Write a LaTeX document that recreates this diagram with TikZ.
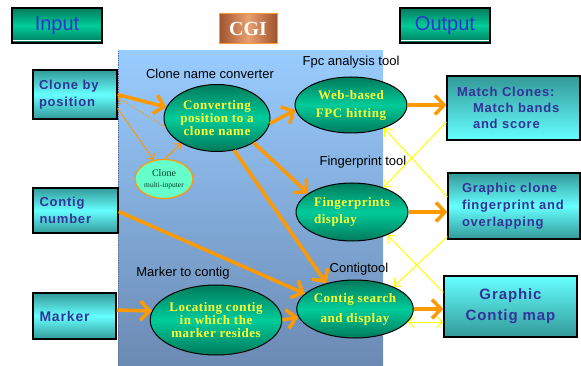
\documentclass[tikz,border=0pt]{standalone}
\usepackage{fontspec}
\setmainfont{Liberation Serif}
\newfontfamily\sansf{Liberation Sans}
\newfontfamily\boxf{Liberation Sans}[LetterSpace=6]
\newfontfamily\ellf{Liberation Serif}[LetterSpace=4]
\usetikzlibrary{shapes.geometric,arrows.meta,calc}
\definecolor{orng}{HTML}{FF9900}
\definecolor{ylw}{HTML}{FFFF00}
\definecolor{txtblue}{HTML}{333399}
\definecolor{hdrblue}{HTML}{3333CC}
\definecolor{teal}{HTML}{339999}
\definecolor{cyanl}{HTML}{66FFFF}
\definecolor{gdark}{HTML}{007A5C}
\definecolor{gmid}{HTML}{00CC99}
\definecolor{ellt}{HTML}{FFFF33}
\tikzset{
  hdrbox/.style={draw=black,line width=1.2pt,top color=gdark,bottom color=gdark,middle color=gmid,
    minimum width=90pt,minimum height=35pt,inner sep=0pt,font=\sansf\fontsize{20}{22}\selectfont,text=hdrblue},
  inbox/.style={draw=black,line width=1.2pt,inner sep=0pt,align=left,
    font=\boxf\bfseries\fontsize{13}{17}\selectfont,text=txtblue},
  tealmid/.style={top color=teal,bottom color=teal,middle color=cyanl},
  tealup/.style={top color=teal,bottom color=cyanl},
  tealdown/.style={top color=cyanl,bottom color=teal},
  tool/.style={ellipse,draw=black,line width=1pt,top color=gdark,bottom color=gdark,middle color=gmid,
    inner sep=0pt,align=center,font=\ellf\bfseries\fontsize{13}{13}\selectfont,text=ellt},
  lbl/.style={font=\sansf\fontsize{13}{15}\selectfont,text=black,inner sep=0pt},
  bigarrow/.style={draw=orng,line width=3.5pt,-{Straight Barb[length=9pt,width=19pt]}},
  thinarrow/.style={draw=orng,line width=1pt,-{Straight Barb[length=5pt,width=9pt]}},
  yarrow/.style={draw=ylw,line width=1pt,-{Straight Barb[length=6pt,width=11pt]}},
  ydarrow/.style={draw=ylw,line width=1pt,{Straight Barb[length=6pt,width=11pt]}-{Straight Barb[length=6pt,width=11pt]}},
}
\begin{document}
\begin{tikzpicture}[x=1pt,y=-1pt]
\useasboundingbox (0,0) rectangle (581,366);
% panel
\shade[top color={rgb,255:red,153;green,204;blue,255},bottom color={rgb,255:red,107;green,138;blue,179}]
  (118,51) rectangle (383,366);
\draw[densely dotted,color={rgb,255:red,90;green,110;blue,150},line width=0.8pt] (118.5,51) -- (118.5,366);
% header boxes
\node[hdrbox] (in) at (57,25.5) {Input};
\node[hdrbox] (out) at (445,25.5) {Output};
\draw[white,line width=0.6pt] (13,40.5) -- (101,40.5);
\draw[white,line width=0.6pt] (401,40.5) -- (489,40.5);
\node[draw={rgb,255:red,255;green,153;blue,51},line width=1pt,
  left color={rgb,255:red,160;green,82;blue,45},right color={rgb,255:red,160;green,82;blue,45},
  middle color={rgb,255:red,232;green,160;blue,112},
  minimum width=58pt,minimum height=30pt,inner sep=0pt,text=white,
  font=\fontsize{20}{22}\selectfont\bfseries] (cgi) at (248,29) {CGI};
% input boxes
\node[inbox,tealmid,minimum width=84pt,minimum height=49pt,text width=72pt] (cbp) at (75,94.5) {Clone by\\position};
\node[inbox,tealmid,minimum width=85pt,minimum height=45pt,text width=72pt] (cn) at (75.5,210.5) {Contig\\number};
\node[inbox,tealmid,minimum width=83pt,minimum height=46pt,text width=70pt,font=\boxf\bfseries\fontsize{14}{16}\selectfont] (mk) at (74.5,316) {Marker};
% output boxes
\node[inbox,tealup,minimum width=133pt,minimum height=64pt,text width=113pt,font=\boxf\bfseries\fontsize{13}{16}\selectfont] (mc) at (513.5,108)
  {Match Clones:\\\hspace*{16pt}Match bands\\\hspace*{16pt}and score};
\node[inbox,tealmid,minimum width=132pt,minimum height=66pt,text width=104pt,font=\boxf\bfseries\fontsize{13}{17}\selectfont] (gc) at (514,206)
  {Graphic clone\\fingerprint and\\overlapping};
\node[inbox,tealdown,minimum width=133pt,minimum height=61pt,text width=124pt,align=center,
  font=\boxf\bfseries\fontsize{15}{21}\selectfont] (gcm) at (510.5,306.5)
  {Graphic\\Contig map};
% tools
\node[tool,minimum width=106pt,minimum height=67pt] (conv) at (217,118)
  {Converting\\position to a\\clone name};
\node[ellipse,draw=orng,line width=1.2pt,fill={rgb,255:red,102;green,255;blue,204},
  minimum width=58pt,minimum height=39pt,inner sep=0pt,align=center,text={rgb,255:red,0;green,60;blue,40}] (cmi) at (164,179)
  {\fontsize{10}{10}\selectfont Clone\\[-1pt]\fontsize{7.5}{8}\selectfont multi-inputer};
\node[tool,minimum width=112pt,minimum height=56pt] (web) at (351,105) {Web-based\\[5pt]FPC hitting};
\node[tool,minimum width=112pt,minimum height=58pt,align=left] (fp) at (352,212) {Fingerprints\\[4pt]display};
\node[tool,minimum width=106pt,minimum height=58pt] (cs) at (355,309) {Contig search\\[7pt]and display};
\node[tool,minimum width=120pt,minimum height=70pt] (loc) at (216,320) {Locating contig\\in which the\\marker resides};
% labels
\node[lbl] (l1) at (210,74) {Clone name converter};
\node[lbl] (l2) at (351,62) {Fpc analysis tool};
\node[lbl] (l3) at (363,162) {Fingerprint tool};
\node[lbl] (l4) at (359,269) {Contigtool};
\node[lbl] (l5) at (183,273) {Marker to contig};
% orange arrows
\draw[bigarrow] (cbp.east) -- (conv.168);
\draw[bigarrow] (conv.-6) -- (web.185);
\draw[bigarrow] (conv.-34) -- (fp.157);
\draw[bigarrow] (conv.-62) -- (cs.138);
\draw[bigarrow] ([yshift=-1pt]cn.east) -- (cs.163);
\draw[bigarrow] ([yshift=6pt]mk.east) -- (loc.172);
\draw[bigarrow] (loc.east) -- (cs.188);
\draw[bigarrow] (web.east) -- (web.east -| mc.west);
\draw[bigarrow] (fp.east) -- (fp.east -| gc.west);
\draw[bigarrow] (cs.east) -- (cs.east -| gcm.west);
% thin orange
\draw[thinarrow] ([yshift=-14pt]cbp.east) -- (cmi.118);
\draw[thinarrow] (cmi.88) -- (conv.215);
\draw[draw=orng,line width=1.2pt,dotted,-{Straight Barb[length=5pt,width=9pt]}] (conv.190) -- ([yshift=-3pt]cbp.east);
% yellow
\draw[yarrow] ([yshift=-14pt]mc.west) -- (fp.38);
\draw[yarrow] ([yshift=9pt]gc.west) -- (web.-35);
\draw[yarrow] ([yshift=3pt]gc.south west) -- (cs.30);
\draw[yarrow] ([yshift=14pt]gcm.west) -- (fp.-33);
\draw[ydarrow] (cs.-14) -- (cs.-14 -| gcm.west);
\end{tikzpicture}
\end{document}
